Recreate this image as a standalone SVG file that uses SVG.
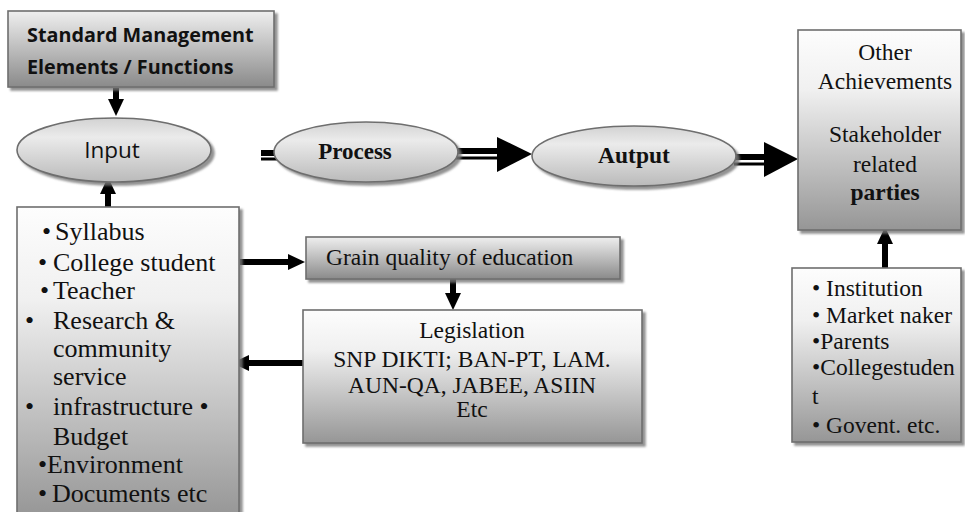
<svg xmlns="http://www.w3.org/2000/svg" width="965" height="512" viewBox="0 0 965 512">
  <defs>
    <linearGradient id="gBox" x1="0" y1="0" x2="0" y2="1">
      <stop offset="0" stop-color="#fdfdfd"/>
      <stop offset="0.3" stop-color="#f0f0f0"/>
      <stop offset="1" stop-color="#969696"/>
    </linearGradient>
    <linearGradient id="gTitle" x1="0" y1="0" x2="0" y2="1">
      <stop offset="0" stop-color="#efefef"/>
      <stop offset="1" stop-color="#8a8a8a"/>
    </linearGradient>
    <linearGradient id="gEll" x1="0" y1="0" x2="0" y2="1">
      <stop offset="0" stop-color="#d2d2d2"/>
      <stop offset="0.3" stop-color="#ebebeb"/>
      <stop offset="1" stop-color="#bababa"/>
    </linearGradient>
    <filter id="sh" x="-10%" y="-10%" width="130%" height="130%">
      <feDropShadow dx="3" dy="3" stdDeviation="1.2" flood-color="#777" flood-opacity="0.8"/>
    </filter>
    <marker id="ah" markerUnits="userSpaceOnUse" markerWidth="18" markerHeight="18" viewBox="0 -9 18 18" refX="0" refY="0" orient="auto">
      <path d="M0,-8 L17,0 L0,8 Z" fill="#000"/>
    </marker>
  </defs>
  <style>
    .box { stroke:#6e6e6e; stroke-width:1.6; filter:url(#sh); }
    .ell { fill:url(#gEll); stroke:#6e6e6e; stroke-width:1.6; filter:url(#sh); }
    .serif { font-family:"Liberation Serif","Times New Roman",serif; fill:#111; }
    .sans { font-family:"Open Sans","Liberation Sans",sans-serif; fill:#111; }
    .m { font-size:23.5px; }
    .l { font-size:26px; }
    .arr { stroke:#000; stroke-width:6; fill:none; marker-end:url(#ah); }
    .dbl1 { stroke:#000; stroke-width:6; fill:none; }
    .dbl2 { stroke:#000; stroke-width:3; fill:none; }
  </style>

  <rect width="965" height="512" fill="#ffffff"/>

  <g id="connectors">
    <line class="arr" x1="116" y1="88" x2="116" y2="99"/>
    <line class="arr" x1="108" y1="208" x2="108" y2="194"/>
    <line class="arr" x1="885" y1="268" x2="885" y2="244"/>
    <line class="arr" x1="240" y1="262" x2="288" y2="262"/>
    <line class="arr" x1="453" y1="279" x2="453" y2="293"/>
    <line class="arr" x1="303" y1="363" x2="249" y2="363"/>
    <line class="dbl1" x1="261" y1="153" x2="290" y2="153"/>
    <line class="dbl2" x1="261" y1="159" x2="290" y2="159"/>
    <line class="dbl1" x1="455" y1="151" x2="499" y2="151"/>
    <line class="dbl2" x1="455" y1="158" x2="499" y2="158"/>
    <polygon points="497,137 532,154 497,172" fill="#000"/>
    <line class="dbl1" x1="734" y1="157" x2="766" y2="157"/>
    <line class="dbl2" x1="734" y1="164" x2="766" y2="164"/>
    <polygon points="764,142 798,159 764,177" fill="#000"/>
  </g>

  <g id="title">
    <rect class="box" x="8" y="11" width="266" height="76" fill="url(#gTitle)"/>
    <text class="sans" font-weight="bold" font-size="19.8" x="27" y="42">Standard Management</text>
    <text class="sans" font-weight="bold" font-size="19.8" x="27" y="74">Elements / Functions</text>
  </g>

  <g id="input">
    <ellipse class="ell" cx="114" cy="150" rx="97" ry="32"/>
    <text class="sans" font-size="22.5" x="112" y="158" text-anchor="middle">Input</text>
  </g>

  <g id="process">
    <ellipse class="ell" cx="366" cy="152" rx="92" ry="30"/>
    <text class="serif" font-weight="bold" font-size="23" x="355" y="159" text-anchor="middle">Process</text>
  </g>

  <g id="autput">
    <ellipse class="ell" cx="634" cy="156" rx="102" ry="30"/>
    <text class="serif" font-weight="bold" font-size="23.5" x="634" y="163" text-anchor="middle">Autput</text>
  </g>

  <g id="achievements">
    <rect class="box" x="798" y="30" width="163" height="200" fill="url(#gBox)"/>
    <text class="serif m" x="885" y="60" text-anchor="middle">Other</text>
    <text class="serif m" x="885" y="89" text-anchor="middle">Achievements</text>
    <text class="serif m" x="885" y="142" text-anchor="middle">Stakeholder</text>
    <text class="serif m" x="885" y="172" text-anchor="middle">related</text>
    <text class="serif m" font-weight="bold" x="885" y="200" text-anchor="middle">parties</text>
  </g>

  <g id="stakeholders">
    <rect class="box" x="792" y="268" width="169" height="174" fill="url(#gBox)"/>
    <text class="serif m" x="812" y="296">• Institution</text>
    <text class="serif m" x="812" y="323">• Market naker</text>
    <text class="serif m" x="812" y="349">•Parents</text>
    <text class="serif m" x="812" y="375">•Collegestuden</text>
    <text class="serif m" x="812" y="404">t</text>
    <text class="serif m" x="812" y="433">• Govent. etc.</text>
  </g>

  <g id="inputs">
    <rect class="box" x="17" y="207" width="222" height="310" fill="url(#gBox)"/>
    <text class="serif l" y="240"><tspan x="42">•</tspan><tspan x="55">Syllabus</tspan></text>
    <text class="serif l" y="271"><tspan x="38">•</tspan><tspan x="53">College student</tspan></text>
    <text class="serif l" y="299"><tspan x="40">•</tspan><tspan x="53">Teacher</tspan></text>
    <text class="serif l" y="329"><tspan x="25">•</tspan><tspan x="53">Research &amp;</tspan></text>
    <text class="serif l" x="53" y="357">community</text>
    <text class="serif l" x="53" y="385">service</text>
    <text class="serif l" y="415"><tspan x="25">•</tspan><tspan x="53">infrastructure •</tspan></text>
    <text class="serif l" x="53" y="445">Budget</text>
    <text class="serif l" x="38" y="473">•Environment</text>
    <text class="serif l" y="502"><tspan x="38">•</tspan><tspan x="52">Documents etc</tspan></text>
  </g>

  <g id="grain">
    <rect class="box" x="306" y="237" width="314" height="42" fill="url(#gTitle)"/>
    <text class="serif m" x="326" y="265">Grain quality of education</text>
  </g>

  <g id="legislation">
    <rect class="box" x="303" y="310" width="339" height="133" fill="url(#gBox)"/>
    <text class="serif m" x="472" y="338" text-anchor="middle">Legislation</text>
    <text class="serif m" x="472" y="367" text-anchor="middle">SNP DIKTI; BAN-PT, LAM.</text>
    <text class="serif m" x="472" y="393" text-anchor="middle">AUN-QA, JABEE, ASIIN</text>
    <text class="serif m" x="472" y="417" text-anchor="middle">Etc</text>
  </g>
</svg>
